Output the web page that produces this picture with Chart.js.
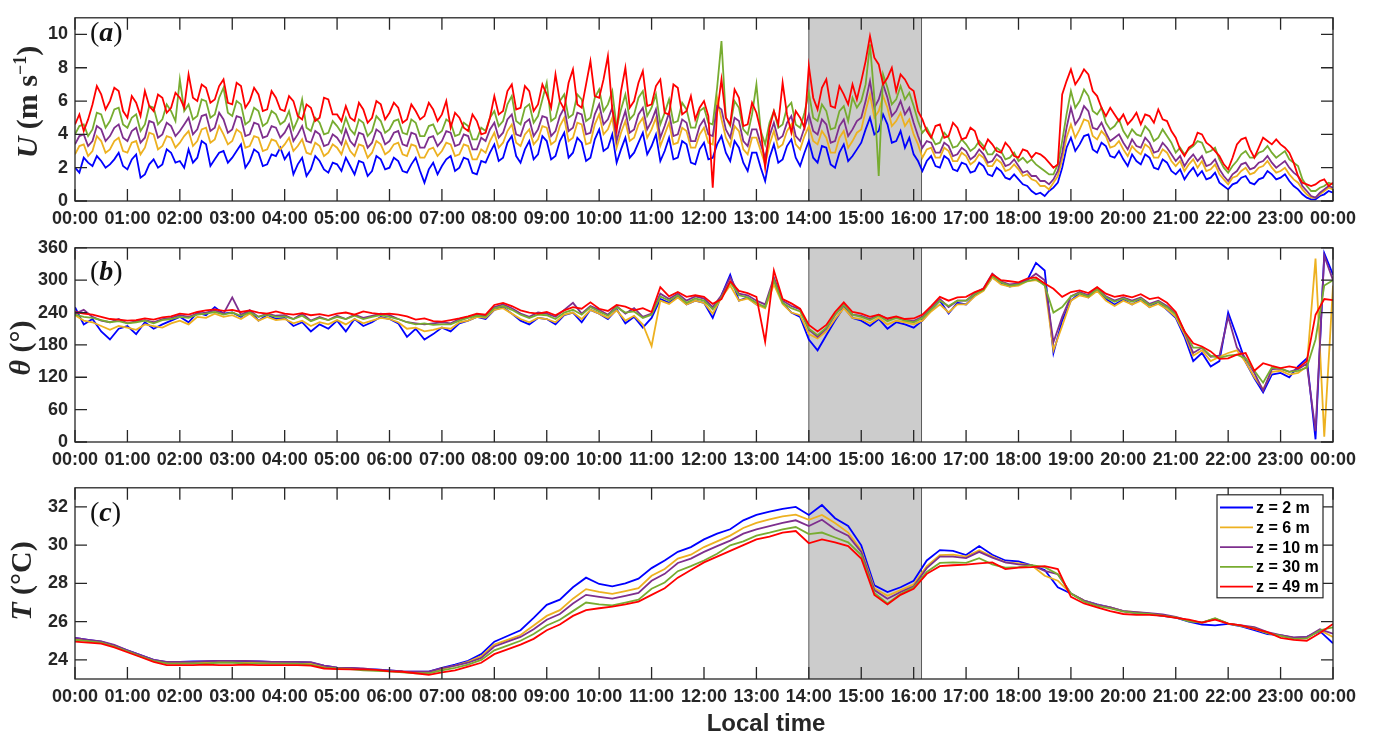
<!DOCTYPE html>
<html>
<head>
<meta charset="utf-8">
<script src="https://cdn.jsdelivr.net/npm/chart.js@4.4.0/dist/chart.umd.min.js"></script>
<style>
body { margin:0; background:#fff; width:1380px; height:738px; position:relative; overflow:hidden; }
canvas { position:absolute; left:0; }
.ytitle { position:absolute; font-family:"Liberation Serif","DejaVu Serif",serif; font-weight:bold; font-size:30px; color:#262626;
  transform:translate(-50%,-50%) rotate(-90deg); white-space:nowrap; line-height:34px; }
.ytitle sup { font-size:18px; }
.plabel { position:absolute; font-family:"Liberation Serif","DejaVu Serif",serif; font-size:28px; color:#111; line-height:30px; }
.plabel i { font-weight:bold; }
#xtitle { position:absolute; left:766px; top:723px; transform:translate(-50%,-50%); font-family:"Liberation Sans",Arial,sans-serif;
  font-weight:bold; font-size:24px; color:#262626; white-space:nowrap; }
</style>
</head>
<body>
<canvas id="pa" width="1380" height="230" style="top:0px"></canvas>
<canvas id="pb" width="1380" height="240" style="top:230px"></canvas>
<canvas id="pc" width="1380" height="240" style="top:470px"></canvas>

<div class="ytitle" style="left:23px;top:102px"><i>U</i> (m s<sup>−1</sup>)</div>
<div class="ytitle" style="left:20px;top:348px"><i>θ</i> (°)</div>
<div class="ytitle" style="left:21px;top:581px"><i>T</i> (°C)</div>
<div class="plabel" style="left:90px;top:17px">(<i>a</i>)</div>
<div class="plabel" style="left:90px;top:256px">(<i>b</i>)</div>
<div class="plabel" style="left:90px;top:497px">(<i>c</i>)</div>
<div id="xtitle">Local time</div>

<script>
// sensor heights and colours (MATLAB default order)
const HEIGHTS = ['z = 2 m', 'z = 6 m', 'z = 10 m', 'z = 30 m', 'z = 49 m'];
const COLORS = ['#0000ff', '#edb120', '#7e2f8e', '#77ac30', '#ff0000'];
const SHADE = [840, 969]; // minutes, shaded event window

const U_TICKS = [0, 2, 4, 6, 8, 10];
const TH_TICKS = [0, 60, 120, 180, 240, 300, 360];
const T_TICKS = [24, 26, 28, 30, 32];

// (a) wind speed, m/s, one value every 5 min from 00:00 to 24:00 (one row = 1 h)
const U_STEP = 5;
const U2 = [
  2.0,1.7,2.6,2.3,2.1,2.7,2.4,2.0,2.2,2.5,2.9,2.1,
  1.9,2.5,2.8,1.4,1.6,2.2,2.5,2.0,2.2,3.1,2.9,2.3,
  2.4,2.0,3.1,2.3,2.6,3.6,3.4,2.1,2.5,2.9,3.0,2.3,
  2.6,3.0,3.4,2.0,2.4,3.1,2.9,2.1,2.2,2.8,2.7,3.2,
  2.5,2.9,1.6,2.2,2.6,1.5,1.9,2.7,2.4,1.9,1.7,2.3,
  2.2,1.8,2.6,2.1,1.6,2.4,2.3,1.5,1.8,2.7,2.5,1.9,
  2.0,2.6,2.4,1.8,1.7,2.2,2.6,1.8,1.1,1.9,2.3,1.6,
  2.1,2.5,2.7,1.8,2.0,2.6,2.5,1.7,1.6,2.4,2.3,2.9,
  3.4,2.4,2.6,3.5,3.9,2.7,2.3,3.1,3.6,2.5,2.8,3.9,
  3.6,2.5,2.7,3.6,4.1,2.6,2.9,3.8,3.5,2.4,2.6,3.7,
  4.3,3.0,3.2,4.0,2.3,3.1,3.8,2.6,2.9,3.5,4.1,2.8,
  3.3,4.0,2.4,3.0,3.8,2.5,2.6,3.6,3.4,2.3,2.2,3.1,
  3.5,2.5,2.6,3.4,3.9,2.9,2.4,3.6,3.2,2.3,1.8,2.9,
  2.9,2.0,1.2,2.6,3.4,2.3,2.5,3.3,3.7,2.6,2.1,2.9,
  3.6,2.6,2.3,3.3,3.2,2.2,2.0,2.9,3.4,2.4,2.7,3.1,
  3.5,4.3,5.0,4.0,4.2,5.2,4.6,3.5,3.6,4.2,3.2,3.8,
  2.8,2.4,1.8,2.4,2.7,2.1,2.0,2.7,2.5,1.9,1.8,2.3,
  2.2,1.7,1.8,2.3,2.1,1.6,1.5,2.0,1.8,1.4,1.3,1.6,
  1.3,1.0,0.9,0.6,0.4,0.5,0.3,0.6,0.8,1.1,2.0,3.2,
  3.8,3.0,3.4,3.9,4.0,3.1,2.9,3.5,3.3,2.7,2.6,3.0,
  2.5,2.1,2.8,2.4,2.2,2.8,2.6,2.0,1.9,2.5,2.3,1.8,
  1.6,1.9,1.3,1.7,2.0,1.5,1.8,1.3,1.4,1.7,1.1,0.9,
  0.7,1.0,1.1,1.4,1.5,1.1,1.0,1.3,1.4,1.8,1.6,1.3,
  1.4,1.6,1.2,0.9,0.7,0.4,0.2,0.1,0.1,0.3,0.4,0.6,
  0.5];
const U6 = [
  2.8,3.3,3.4,2.7,3.0,3.9,3.6,2.9,3.1,3.6,3.8,3.0,
  2.9,3.5,3.6,2.8,3.2,4.1,4.0,3.1,3.3,3.9,3.8,3.2,
  3.5,3.9,4.2,3.3,3.6,4.3,4.4,3.5,3.7,4.5,4.0,3.4,
  3.6,4.3,4.1,3.2,3.3,3.9,3.8,3.0,3.1,3.7,3.6,3.1,
  3.4,3.8,3.0,3.3,3.7,2.9,2.8,3.5,3.3,2.7,2.9,3.4,
  3.2,2.8,3.6,3.0,2.7,3.4,3.3,2.6,2.9,3.6,3.4,2.8,
  3.0,3.4,3.5,2.8,2.7,3.4,3.3,2.6,2.6,3.1,3.2,2.7,
  3.0,3.5,3.4,2.7,2.8,3.4,3.3,2.5,2.5,3.1,2.9,3.6,
  4.1,3.2,3.5,4.2,4.6,3.5,3.3,4.0,4.3,3.4,3.7,4.5,
  4.4,3.4,3.6,4.5,5.0,3.6,3.8,4.7,4.6,3.4,3.5,4.6,
  5.2,4.0,4.3,5.0,3.2,4.1,4.8,3.6,3.8,4.6,5.0,3.8,
  4.3,5.0,3.3,4.0,4.7,3.4,3.5,4.4,4.2,3.2,3.2,4.0,
  4.4,3.5,3.4,6.2,4.9,3.8,3.3,4.5,4.2,3.1,2.8,3.8,
  3.8,3.0,2.2,3.4,4.2,3.2,3.4,4.2,4.6,3.4,3.1,3.9,
  4.5,3.6,3.4,4.2,3.8,2.9,2.9,3.8,4.2,3.2,3.6,4.1,
  4.3,5.4,6.4,5.0,5.4,6.3,5.6,4.5,4.8,5.3,4.5,4.9,
  4.0,3.4,2.6,3.1,3.2,2.6,2.6,3.2,3.0,2.4,2.4,2.9,
  2.7,2.2,2.4,2.8,2.6,2.1,2.1,2.5,2.3,1.8,1.9,2.2,
  1.9,1.5,1.6,1.3,1.2,0.9,0.9,0.7,1.1,1.5,2.5,3.8,
  4.6,3.8,4.3,4.9,4.8,3.9,3.7,4.2,3.9,3.2,3.3,3.6,
  3.1,2.7,3.3,3.0,2.8,3.4,3.2,2.6,2.6,3.1,2.9,2.4,
  2.1,2.4,1.8,2.2,2.5,2.0,2.4,1.8,1.9,2.2,1.6,1.3,
  1.0,1.4,1.5,1.8,2.0,1.6,1.7,2.0,2.1,2.4,2.0,1.7,
  1.8,2.0,1.6,1.3,1.1,0.7,0.4,0.2,0.2,0.4,0.6,0.8,
  0.7];
const U10 = [
  3.4,3.9,4.0,3.3,3.6,4.5,4.3,3.6,3.9,4.4,4.6,3.8,
  3.6,4.2,4.4,3.5,3.8,4.8,4.7,3.8,4.0,4.7,4.5,3.9,
  4.2,4.6,5.0,4.0,4.3,5.1,5.2,4.2,4.4,5.3,4.9,4.1,
  4.3,5.1,5.0,3.9,4.0,4.7,4.6,3.8,3.9,4.5,4.4,3.8,
  4.1,4.6,3.6,4.0,4.5,3.6,3.5,4.2,4.0,3.3,3.4,4.0,
  3.8,3.4,4.3,3.6,3.3,4.1,4.0,3.2,3.5,4.3,4.1,3.4,
  3.6,4.1,4.2,3.4,3.3,4.1,4.0,3.2,3.2,3.8,3.9,3.3,
  3.6,4.2,4.1,3.3,3.4,4.0,3.9,3.1,3.1,3.8,3.6,4.3,
  4.7,3.8,4.1,4.9,5.2,4.0,3.9,4.7,4.9,3.9,4.3,5.1,
  5.0,3.9,4.2,5.1,5.6,4.2,4.4,5.3,5.2,4.0,4.1,5.2,
  5.8,4.6,4.9,5.6,3.6,4.6,5.4,4.1,4.3,5.2,5.6,4.3,
  4.8,5.5,3.8,4.5,5.3,3.9,4.0,4.9,4.7,3.6,3.6,4.5,
  4.9,4.0,3.9,5.7,5.5,4.3,3.8,5.0,4.8,3.6,3.3,4.3,
  4.3,3.4,2.6,3.9,4.7,3.7,3.9,4.7,5.1,3.9,3.6,4.4,
  5.2,4.2,4.0,4.9,4.6,3.5,3.6,4.5,4.9,3.9,4.3,4.8,
  5.0,6.0,7.2,5.6,6.1,7.0,6.2,5.1,5.4,6.0,5.2,5.6,
  4.7,3.9,3.2,3.6,3.5,2.9,2.9,3.5,3.3,2.7,2.8,3.2,
  3.0,2.5,2.7,3.1,2.8,2.3,2.4,2.8,2.6,2.1,2.2,2.5,
  2.1,1.7,1.8,1.5,1.5,1.2,1.2,1.0,1.3,1.8,2.9,4.4,
  5.6,4.6,5.0,5.7,5.4,4.4,4.3,4.7,4.1,3.6,3.8,4.0,
  3.5,3.1,3.7,3.3,3.2,3.8,3.5,2.9,3.0,3.5,3.2,2.8,
  2.4,2.7,2.1,2.5,2.8,2.4,2.7,2.1,2.2,2.5,1.9,1.5,
  1.2,1.6,1.8,2.2,2.3,1.9,2.0,2.3,2.4,2.7,2.3,2.0,
  2.2,2.4,2.0,1.7,1.5,0.9,0.6,0.3,0.2,0.5,0.7,0.9,
  0.8];
const U30 = [
  4.0,4.5,4.6,3.9,4.3,5.3,5.2,4.4,4.8,5.5,5.6,4.6,
  4.4,5.0,5.2,4.2,4.6,5.7,5.6,4.6,4.9,5.8,5.4,4.8,
  7.3,5.4,5.8,4.9,5.1,6.1,6.0,5.0,5.2,6.2,6.8,5.3,
  5.1,6.0,5.8,4.6,4.8,5.6,5.4,4.5,4.7,5.4,5.2,4.6,
  4.8,5.4,4.3,4.9,6.1,4.4,4.2,5.0,4.7,4.0,4.1,4.8,
  4.5,4.1,5.0,4.3,4.0,4.9,4.7,3.9,4.2,5.1,4.8,4.1,
  4.3,4.8,4.9,4.1,4.0,4.9,4.7,3.9,3.9,4.5,4.6,4.0,
  4.2,4.9,4.7,3.9,4.0,4.7,4.5,3.7,3.7,4.4,4.2,5.0,
  5.4,4.5,4.8,5.8,6.3,4.8,4.6,5.6,5.8,4.7,5.1,6.1,
  7.1,4.8,5.0,6.0,6.4,5.0,5.2,6.4,6.1,4.8,5.0,6.2,
  6.7,5.4,5.8,6.6,4.4,5.5,6.4,4.9,5.2,6.2,6.6,5.1,
  5.6,6.4,4.6,5.3,6.1,4.7,4.8,5.9,5.5,4.4,4.4,5.4,
  5.6,4.7,4.6,6.8,9.6,5.0,4.5,6.0,5.6,4.3,4.0,5.2,
  7.0,4.2,3.4,4.7,5.4,4.4,4.6,5.6,5.9,4.6,4.4,5.3,
  6.5,5.0,4.8,5.8,5.4,4.3,4.4,5.4,5.7,4.8,6.2,5.6,
  6.0,7.0,9.4,6.2,1.5,7.6,6.8,5.8,6.1,6.9,6.1,6.5,
  5.7,4.8,4.1,4.4,3.9,3.4,3.5,4.1,3.8,3.2,3.3,3.7,
  3.4,3.0,3.2,3.6,3.3,2.8,2.8,3.2,3.0,2.5,2.6,2.9,
  2.4,2.6,2.3,2.5,2.2,2.0,1.8,1.6,1.6,2.2,3.6,5.2,
  6.6,5.6,6.0,6.7,6.3,5.4,5.2,5.6,4.7,4.3,4.5,4.9,
  4.2,3.8,4.3,4.0,3.9,4.5,4.2,3.6,3.8,4.3,3.9,3.5,
  2.9,3.2,2.8,3.1,3.3,3.6,3.5,2.9,3.0,3.2,2.5,2.0,
  1.7,2.1,2.4,2.8,3.0,2.6,2.6,2.9,3.0,3.3,2.9,2.6,
  2.8,3.0,2.5,2.3,2.1,1.3,0.9,0.6,0.6,0.8,0.9,1.1,
  1.0];
const U49 = [
  4.6,5.2,4.2,4.9,5.8,6.9,6.4,5.5,6.0,6.8,6.6,5.4,
  5.0,6.3,5.9,5.1,6.6,5.7,5.4,6.4,6.2,5.3,5.6,6.5,
  6.2,5.6,7.6,6.2,6.0,7.0,6.8,5.9,6.1,6.9,7.3,5.9,
  5.8,7.1,6.9,5.6,6.0,6.8,6.4,5.4,5.5,6.6,6.2,5.5,
  5.4,6.3,6.0,5.1,4.9,5.8,5.6,4.8,5.0,6.2,6.1,5.2,
  5.2,4.8,5.7,5.0,4.8,5.9,5.5,4.7,5.0,6.0,5.8,4.9,
  5.3,5.9,5.6,4.7,4.9,5.8,5.4,4.9,5.1,5.9,5.5,4.8,
  5.2,6.0,4.4,5.3,5.0,4.4,4.2,5.2,4.8,4.0,4.1,5.0,
  6.3,5.2,5.4,6.6,7.0,5.5,5.6,6.9,6.6,5.4,5.8,7.0,
  6.4,5.6,7.6,6.0,5.5,7.1,7.9,5.8,5.6,7.0,8.4,6.3,
  6.2,7.3,8.7,5.5,4.2,6.6,8.0,5.6,6.0,7.1,7.8,5.7,
  5.8,6.9,7.3,5.3,5.2,7.0,6.8,5.2,5.4,6.3,4.9,5.6,
  6.0,5.1,0.8,5.3,7.3,5.0,4.6,6.7,6.2,4.5,4.6,5.9,
  5.3,4.2,2.0,4.4,5.4,4.6,7.1,5.2,4.1,5.4,5.0,4.4,
  8.1,6.2,5.5,6.8,7.3,5.7,5.6,6.9,6.4,5.8,7.0,6.1,
  7.2,8.4,9.9,8.6,8.2,7.0,7.4,8.0,6.6,7.6,7.3,6.8,
  6.6,5.4,4.9,4.2,3.8,4.5,4.6,3.8,3.9,4.7,4.4,3.7,
  3.8,4.4,4.2,3.4,3.1,3.7,3.4,3.0,2.9,3.5,3.2,2.7,
  2.6,3.1,3.0,2.6,2.9,2.8,2.6,2.3,2.0,2.2,6.4,7.2,
  7.9,7.0,7.4,7.9,7.6,6.6,6.3,5.6,5.1,5.6,5.2,4.8,
  5.2,4.6,4.9,5.3,4.6,5.2,5.1,4.7,5.5,4.9,4.8,4.2,
  3.8,3.1,2.7,3.2,3.4,4.1,4.0,3.5,3.3,3.0,2.7,2.2,
  1.9,2.6,3.4,3.7,3.8,3.1,2.6,3.2,3.8,3.6,3.4,3.7,
  3.4,3.2,2.9,2.3,1.5,1.1,1.0,0.9,1.0,1.2,1.3,0.9,
  1.1];

// (b) wind direction, degrees, every 10 min (one row = 2 h)
const TH_STEP = 10;
const TH2 = [250,218,228,205,190,210, 215,200,222,210,218,225,
  232,222,240,235,250,238, 240,232,244,225,236,228,
  230,215,222,205,218,210, 225,205,228,215,222,232,
  228,220,195,210,190,200, 212,205,220,225,232,228,
  245,250,238,225,218,230, 228,218,235,240,222,245,
  238,228,246,220,232,212, 230,265,258,270,255,262,
  258,230,272,310,262,268, 255,250,300,258,240,232,
  190,170,198,225,250,230, 225,215,228,210,222,218,
  212,225,245,262,238,258, 255,272,282,305,295,288,
  292,300,332,318,165,225, 262,276,268,282,265,255,
  264,255,265,250,260,245, 230,195,150,165,140,150,
  240,195,148,118,92,125, 128,120,140,155,5,350,
  310];
const TH6 = [235,225,222,215,208,215, 212,208,218,215,212,220,
  225,218,232,230,238,232, 235,228,238,225,232,226,
  228,220,225,215,222,218, 226,218,228,220,225,230,
  228,222,210,212,205,208, 212,210,222,225,232,230,
  245,248,238,228,222,230, 228,222,236,240,228,245,
  238,230,244,225,234,218, 178,262,256,268,255,262,
  258,238,268,290,262,266, 255,248,292,256,240,235,
  200,192,205,228,248,230, 228,220,230,218,225,222,
  218,225,242,255,240,255, 255,270,280,305,292,288,
  290,298,300,292,170,215, 262,272,268,280,262,252,
  262,255,262,250,256,246, 232,200,160,170,150,158,
  165,170,148,120,98,130, 132,125,128,140,340,10,
  290];
const TH10 = [238,245,232,225,222,228, 220,224,226,222,228,230,
  235,232,238,240,244,238, 268,236,244,232,238,234,
  235,228,238,225,232,226, 234,228,236,230,234,238,
  235,228,222,220,218,220, 222,220,228,232,236,234,
  250,255,248,238,232,240, 238,232,245,258,238,252,
  245,236,252,238,248,232, 238,275,265,275,262,270,
  266,250,272,305,275,272, 262,255,305,262,252,246,
  208,195,210,236,255,236, 234,228,236,228,232,226,
  224,232,248,265,250,262, 262,276,285,312,298,292,
  294,300,312,300,185,232, 270,278,272,286,270,262,
  268,262,268,256,262,252, 238,205,165,175,158,160,
  232,175,155,128,95,135, 136,130,135,145,20,345,
  300];
const TH30 = [236,232,230,226,222,224, 220,222,225,220,226,228,
  232,230,236,238,241,236, 240,234,240,232,236,232,
  233,228,234,224,230,226, 232,228,234,228,232,235,
  232,228,222,218,220,217, 218,218,225,230,234,232,
  248,252,245,236,230,236, 235,228,240,245,236,250,
  242,234,250,240,242,230, 236,270,262,272,258,266,
  262,246,268,296,272,268, 258,250,300,258,248,242,
  210,198,212,236,254,236, 232,226,234,224,230,225,
  222,230,246,262,252,262, 262,274,282,308,296,290,
  292,298,302,290,240,250, 270,276,270,284,268,260,
  266,260,266,254,260,250, 236,205,175,175,160,156,
  160,162,155,132,110,138, 136,130,132,138,190,290,
  300];
const TH49 = [241,238,236,232,228,227, 225,226,229,227,231,233,
  238,236,241,244,246,243, 245,241,244,240,238,242,
  238,236,239,235,237,234, 238,240,236,242,239,237,
  238,236,233,227,229,224, 223,226,229,233,238,236,
  254,258,252,244,240,238, 241,235,244,250,247,259,
  247,243,254,251,244,248, 241,287,270,278,269,272,
  269,256,265,298,280,276, 269,186,318,265,257,247,
  217,205,217,241,259,241, 238,232,236,229,233,228,
  229,236,252,269,262,268, 269,278,284,311,300,298,
  296,303,305,294,284,269, 278,281,276,287,275,269,
  272,268,274,265,268,258, 241,205,183,177,168,154,
  155,162,165,132,146,141, 137,140,137,150,236,265,
  263];

// (c) temperature, deg C, every 15 min (one row = 4 h)
const T_STEP = 15;
const T2 = [25.15,25.05,24.95,24.75, 24.50,24.25,24.00,23.88, 23.90,23.92,23.92,23.95, 23.95,23.92,23.92,23.90,
  23.88,23.88,23.85,23.70, 23.60,23.58,23.52,23.50, 23.45,23.40,23.38,23.38, 23.58,23.75,23.95,24.30,
  24.95,25.25,25.55,26.20, 26.88,27.15,27.80,28.30, 27.97,27.85,28.00,28.25, 28.80,29.20,29.65,29.90,
  30.30,30.60,30.83,31.30, 31.58,31.75,31.90,32.00, 31.58,32.10,31.41,31.00, 29.99,27.90,27.55,27.80,
  28.14,29.20,29.74,29.70, 29.48,29.95,29.50,29.20, 29.15,28.95,28.70,27.80, 27.47,27.10,26.90,26.75,
  26.55,26.45,26.40,26.30, 26.21,26.00,25.85,25.80, 25.88,25.75,25.55,25.35, 25.29,25.15,25.20,25.50,
  24.87];
const T6 = [25.10,25.00,24.92,24.72, 24.45,24.20,23.98,23.85, 23.85,23.85,23.88,23.90, 23.88,23.85,23.85,23.85,
  23.83,23.82,23.80,23.65, 23.58,23.55,23.50,23.45, 23.42,23.38,23.35,23.35, 23.52,23.70,23.90,24.20,
  24.80,25.05,25.30,25.80, 26.30,26.60,27.20,27.70, 27.56,27.45,27.60,27.75, 28.40,28.75,29.30,29.50,
  29.90,30.20,30.50,30.90, 31.16,31.35,31.50,31.60, 31.33,31.58,31.16,30.66, 29.74,27.75,27.35,27.65,
  27.95,28.90,29.48,29.50, 29.40,29.74,29.40,29.10, 29.05,28.95,28.40,28.14, 27.47,27.10,26.88,26.75,
  26.55,26.50,26.42,26.32, 26.22,26.05,25.95,26.15, 25.90,25.78,25.62,25.40, 25.28,25.15,25.18,25.55,
  25.20];
const T10 = [25.15,25.05,24.97,24.78, 24.50,24.25,24.00,23.90, 23.90,23.90,23.93,23.95, 23.95,23.95,23.92,23.90,
  23.90,23.90,23.88,23.70, 23.60,23.58,23.55,23.48, 23.45,23.40,23.38,23.38, 23.57,23.70,23.85,24.10,
  24.70,24.95,25.20,25.60, 26.10,26.40,26.95,27.40, 27.30,27.20,27.35,27.50, 28.14,28.50,29.07,29.30,
  29.65,29.95,30.24,30.60, 30.83,31.00,31.16,31.30, 31.00,31.33,30.83,30.50, 29.65,27.65,27.20,27.55,
  27.85,28.80,29.40,29.40, 29.32,29.65,29.35,29.10, 29.00,28.95,28.65,28.48, 27.47,27.10,26.88,26.75,
  26.55,26.50,26.45,26.38, 26.25,26.05,25.95,26.15, 25.90,25.80,25.71,25.45, 25.30,25.18,25.20,25.60,
  25.37];
const T30 = [25.05,24.98,24.90,24.70, 24.45,24.18,23.95,23.82, 23.80,23.82,23.82,23.85, 23.85,23.82,23.82,23.80,
  23.80,23.80,23.75,23.60, 23.55,23.52,23.45,23.42, 23.40,23.35,23.30,23.30, 23.45,23.58,23.75,24.00,
  24.50,24.75,25.00,25.35, 25.80,26.10,26.55,27.00, 26.90,26.85,27.00,27.15, 27.72,28.05,28.64,28.90,
  29.20,29.55,29.99,30.20, 30.50,30.65,30.83,30.95, 30.58,30.66,30.40,30.15, 29.48,27.50,26.95,27.45,
  27.80,28.60,29.07,29.10, 29.07,29.32,29.00,28.82, 28.85,28.95,28.85,28.48, 27.47,27.05,26.82,26.70,
  26.52,26.45,26.40,26.32, 26.22,26.02,25.95,26.18, 25.90,25.78,25.65,25.40, 25.25,25.10,25.12,25.55,
  25.70];
const T49 = [24.95,24.90,24.85,24.65, 24.40,24.15,23.90,23.73, 23.73,23.73,23.75,23.73, 23.73,23.75,23.73,23.73,
  23.73,23.73,23.70,23.55, 23.52,23.50,23.50,23.48, 23.40,23.38,23.30,23.22, 23.35,23.45,23.65,23.85,
  24.30,24.55,24.80,25.10, 25.55,25.85,26.30,26.60, 26.70,26.78,26.90,27.05, 27.40,27.75,28.30,28.70,
  29.10,29.40,29.70,30.00, 30.30,30.45,30.66,30.74, 30.10,30.30,30.15,29.95, 29.30,27.40,26.90,27.40,
  27.72,28.50,28.90,28.95, 28.98,29.05,29.10,28.75, 28.82,28.85,28.90,28.75, 27.30,26.95,26.75,26.55,
  26.40,26.35,26.35,26.30, 26.20,26.10,25.95,26.10, 25.90,25.80,25.62,25.45, 25.15,25.05,25.00,25.40,
  25.88];

function pts(arr, step) {
  return arr.map((v, i) => ({x: i * step, y: v}));
}

const panelAxes = {
  id: 'panelAxes',
  beforeDatasetsDraw(chart) {
    const {ctx, chartArea: a, scales: {x}} = chart;
    const x0 = x.getPixelForValue(SHADE[0]), x1 = x.getPixelForValue(SHADE[1]);
    ctx.save();
    ctx.fillStyle = '#cccccc';
    ctx.fillRect(x0, a.top, x1 - x0, a.bottom - a.top);
    ctx.strokeStyle = '#5a5a5a';
    ctx.lineWidth = 1;
    ctx.beginPath();
    ctx.moveTo(x0, a.top); ctx.lineTo(x0, a.bottom);
    ctx.moveTo(x1, a.top); ctx.lineTo(x1, a.bottom);
    ctx.stroke();
    ctx.restore();
  },
  afterDatasetsDraw(chart, args, opts) {
    const {ctx, chartArea: a, scales: {x, y}} = chart;
    const L = 12;
    ctx.save();
    ctx.strokeStyle = '#262626';
    ctx.lineWidth = 1.3;
    ctx.beginPath();
    x.ticks.forEach(t => {
      const p = x.getPixelForValue(t.value);
      ctx.moveTo(p, a.bottom); ctx.lineTo(p, a.bottom - L);
      ctx.moveTo(p, a.top); ctx.lineTo(p, a.top + L);
    });
    y.ticks.forEach(t => {
      const p = y.getPixelForValue(t.value);
      ctx.moveTo(a.left, p); ctx.lineTo(a.left + L, p);
      ctx.moveTo(a.right, p); ctx.lineTo(a.right - L, p);
    });
    ctx.stroke();
    ctx.strokeRect(a.left, a.top, a.right - a.left, a.bottom - a.top);

    if (opts.legend) {
      const bw = 106, bh = 103;
      const bx = a.right - 10 - bw, by = a.top + 7;
      ctx.fillStyle = '#fff';
      ctx.fillRect(bx, by, bw, bh);
      ctx.lineWidth = 1.2;
      ctx.strokeRect(bx, by, bw, bh);
      ctx.font = 'bold 16px "Liberation Sans", Arial, sans-serif';
      ctx.textBaseline = 'middle';
      chart.data.datasets.forEach((ds, i) => {
        const yy = by + 12.7 + i * 19.8;
        ctx.strokeStyle = ds.borderColor;
        ctx.lineWidth = 1.8;
        ctx.beginPath(); ctx.moveTo(bx + 3, yy); ctx.lineTo(bx + 36, yy); ctx.stroke();
        ctx.fillStyle = '#000';
        ctx.fillText(ds.label, bx + 39, yy + 1);
      });
    }
    ctx.restore();
  }
};

function makePanel(id, series, step, yMin, yMax, yTicks, padTop, xHeight, legend) {
  const datasets = series.map((arr, i) => ({
    label: HEIGHTS[i],
    data: pts(arr, step),
    borderColor: COLORS[i],
    borderWidth: 1.8,
    pointRadius: 0,
    tension: 0,
    order: 5 - i
  }));
  const tickFont = {family: '"Liberation Sans", Arial, sans-serif', size: 18, weight: 'bold'};
  return new Chart(document.getElementById(id), {
    type: 'line',
    data: {datasets},
    plugins: [panelAxes],
    options: {
      responsive: false,
      animation: false,
      layout: {padding: {top: padTop, right: 47, left: 0, bottom: 0}},
      plugins: {legend: {display: false}, tooltip: {enabled: false}, panelAxes: {legend}},
      scales: {
        x: {
          type: 'linear', min: 0, max: 1440,
          grid: {display: false, drawTicks: false},
          border: {display: false},
          ticks: {
            stepSize: 60, autoSkip: false, maxRotation: 0, padding: 7,
            color: '#262626', font: tickFont,
            callback: v => String((v / 60) % 24).padStart(2, '0') + ':00'
          },
          afterFit: s => { s.height = xHeight; }
        },
        y: {
          min: yMin, max: yMax,
          grid: {display: false, drawTicks: false},
          border: {display: false},
          ticks: {padding: 7, color: '#262626', font: tickFont},
          afterBuildTicks: s => { s.ticks = yTicks.map(v => ({value: v})); },
          afterFit: s => { s.width = 75; }
        }
      }
    }
  });
}

makePanel('pa', [U2, U6, U10, U30, U49], U_STEP, 0, 11, U_TICKS, 3, 29, false);
makePanel('pb', [TH2, TH6, TH10, TH30, TH49], TH_STEP, 0, 360, TH_TICKS, 15, 28, false);
makePanel('pc', [T2, T6, T10, T30, T49], T_STEP, 23, 33, T_TICKS, 11, 31, true);
</script>
</body>
</html>
